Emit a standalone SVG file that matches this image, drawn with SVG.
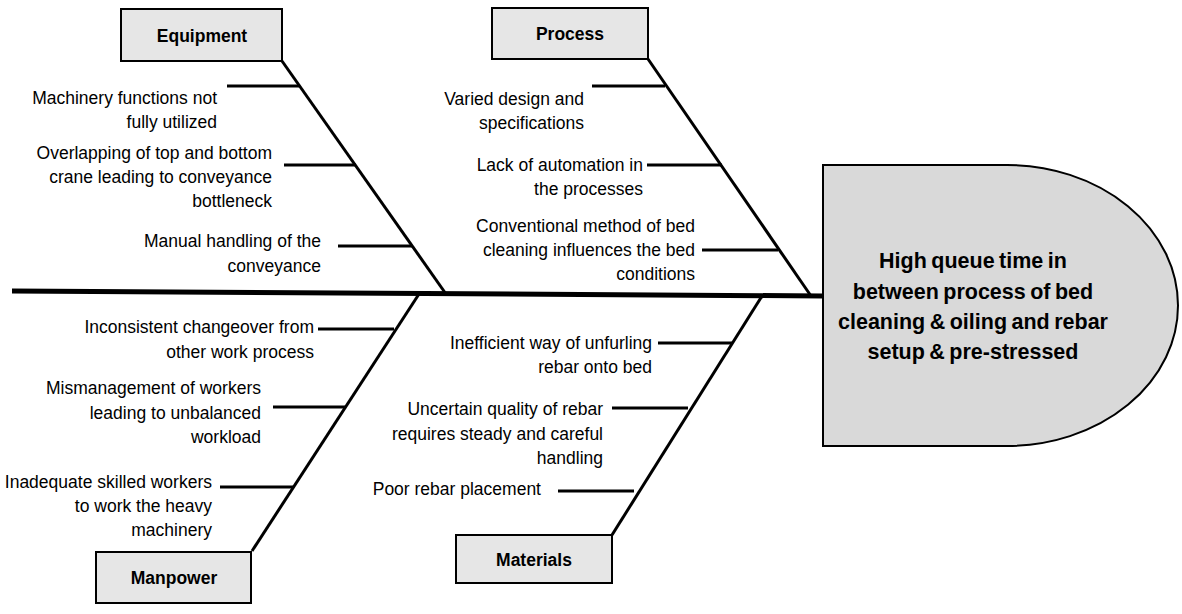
<svg xmlns="http://www.w3.org/2000/svg" width="1182" height="614" viewBox="0 0 1182 614">
<style>
.bg{fill:#ffffff}
.box{fill:#e6e6e6;stroke:#000;stroke-width:2}
.effect{fill:#d9d9d9;stroke:#000;stroke-width:2}
.lbl{font-family:"Liberation Sans",Arial,sans-serif;font-weight:bold;font-size:17.5px;fill:#000;text-anchor:middle}
.eff{font-family:"Liberation Sans",Arial,sans-serif;font-weight:bold;font-size:21.5px;fill:#000;text-anchor:middle;word-spacing:-1.5px}
.c{font-family:"Liberation Sans",Arial,sans-serif;font-size:17.5px;fill:#000;text-anchor:end}
.spine{stroke:#000;stroke-width:5;fill:none}
.bone{stroke:#000;stroke-width:3;fill:none}
.sub{stroke:#000;stroke-width:3;fill:none}
</style>
<rect class="bg" x="0" y="0" width="1182" height="614"/>
<g id="connectors">
<line class="spine" x1="12" y1="291" x2="823" y2="296"/>
<line class="bone" x1="282" y1="61" x2="446" y2="294"/>
<line class="bone" x1="648" y1="59" x2="811" y2="296"/>
<line class="bone" x1="252" y1="551" x2="419" y2="294"/>
<line class="bone" x1="612" y1="535" x2="762" y2="296"/>
<line class="sub" x1="227" y1="86" x2="299" y2="86"/>
<line class="sub" x1="284" y1="165" x2="356" y2="165"/>
<line class="sub" x1="338" y1="246" x2="412" y2="246"/>
<line class="sub" x1="592" y1="86" x2="665" y2="86"/>
<line class="sub" x1="647" y1="165" x2="722" y2="165"/>
<line class="sub" x1="702" y1="250" x2="778" y2="250"/>
<line class="sub" x1="318" y1="329" x2="394" y2="329"/>
<line class="sub" x1="273" y1="407" x2="345" y2="407"/>
<line class="sub" x1="220" y1="487" x2="294" y2="487"/>
<line class="sub" x1="658" y1="343" x2="733" y2="343"/>
<line class="sub" x1="612" y1="408" x2="688" y2="408"/>
<line class="sub" x1="558" y1="491" x2="634" y2="491"/>
</g>
<g id="effect">
<path class="effect" d="M823,165 H1007 A171,140.5 0 0 1 1007,446 H823 Z"/>
<text class="eff" x="973" y="268">High queue time in</text>
<text class="eff" x="973" y="298.5">between process of bed</text>
<text class="eff" x="973" y="329">cleaning &amp; oiling and rebar</text>
<text class="eff" x="973" y="359">setup &amp; pre-stressed</text>
</g>
<g id="equipment">
<rect class="box" x="121" y="9" width="161" height="52"/>
<text class="lbl" x="202" y="42">Equipment</text>
</g>
<g id="process">
<rect class="box" x="492" y="8" width="156" height="51"/>
<text class="lbl" x="570" y="40">Process</text>
</g>
<g id="manpower">
<rect class="box" x="96" y="552" width="155" height="51"/>
<text class="lbl" x="174" y="584">Manpower</text>
</g>
<g id="materials">
<rect class="box" x="456" y="535" width="156" height="48"/>
<text class="lbl" x="534" y="566">Materials</text>
</g>
<g id="cause-equipment-1"><text class="c" x="217" y="104">Machinery functions not</text><text class="c" x="217" y="128">fully utilized</text></g>
<g id="cause-equipment-2"><text class="c" x="272" y="159">Overlapping of top and bottom</text><text class="c" x="272" y="183">crane leading to conveyance</text><text class="c" x="272" y="207">bottleneck</text></g>
<g id="cause-equipment-3"><text class="c" x="321" y="247">Manual handling of the</text><text class="c" x="321" y="272">conveyance</text></g>
<g id="cause-process-1"><text class="c" x="584" y="105">Varied design and</text><text class="c" x="584" y="129">specifications</text></g>
<g id="cause-process-2"><text class="c" x="643" y="171">Lack of automation in</text><text class="c" x="643" y="195">the processes</text></g>
<g id="cause-process-3"><text class="c" x="695" y="232">Conventional method of bed</text><text class="c" x="695" y="256">cleaning influences the bed</text><text class="c" x="695" y="280">conditions</text></g>
<g id="cause-manpower-1"><text class="c" x="314" y="333">Inconsistent changeover from</text><text class="c" x="314" y="358">other work process</text></g>
<g id="cause-manpower-2"><text class="c" x="261" y="394">Mismanagement of workers</text><text class="c" x="261" y="419">leading to unbalanced</text><text class="c" x="261" y="443">workload</text></g>
<g id="cause-manpower-3"><text class="c" x="212" y="488">Inadequate skilled workers</text><text class="c" x="212" y="512">to work the heavy</text><text class="c" x="212" y="536">machinery</text></g>
<g id="cause-materials-1"><text class="c" x="652" y="349">Inefficient way of unfurling</text><text class="c" x="652" y="373">rebar onto bed</text></g>
<g id="cause-materials-2"><text class="c" x="603" y="415">Uncertain quality of rebar</text><text class="c" x="603" y="440">requires steady and careful</text><text class="c" x="603" y="464">handling</text></g>
<g id="cause-materials-3"><text class="c" x="541" y="495">Poor rebar placement</text></g>
</svg>
